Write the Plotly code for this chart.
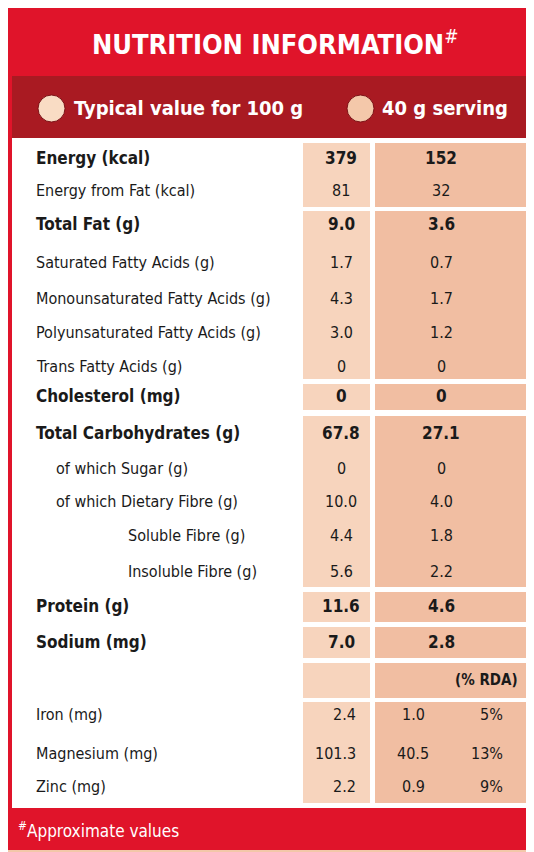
import plotly.graph_objects as go

labels = ["Energy (kcal)", "Energy from Fat (kcal)", "Total Fat (g)", "Saturated Fatty Acids (g)",
          "Monounsaturated Fatty Acids (g)", "Polyunsaturated Fatty Acids (g)", "Trans Fatty Acids (g)",
          "Cholesterol (mg)", "Total Carbohydrates (g)", "of which Sugar (g)", "of which Dietary Fibre (g)",
          "Soluble Fibre (g)", "Insoluble Fibre (g)", "Protein (g)", "Sodium (mg)",
          "", "Iron (mg)", "Magnesium (mg)", "Zinc (mg)"]
per100 = ["379", "81", "9.0", "1.7", "4.3", "3.0", "0", "0", "67.8", "0", "10.0", "4.4", "5.6",
          "11.6", "7.0", "", "2.4", "101.3", "2.2"]
per40 = ["152", "32", "3.6", "0.7", "1.7", "1.2", "0", "0", "27.1", "0", "4.0", "1.8", "2.2",
         "4.6", "2.8", "(% RDA)", "1.0", "40.5", "0.9"]
rda = ["", "", "", "", "", "", "", "", "", "", "", "", "", "", "", "", "5%", "13%", "9%"]
bold = [1, 0, 1, 0, 0, 0, 0, 1, 1, 0, 0, 0, 0, 1, 1, 1, 0, 0, 0]
indent = [0, 0, 0, 0, 0, 0, 0, 0, 0, 1, 1, 2, 2, 0, 0, 0, 0, 0, 0]
row_y = [150, 182, 216, 254, 290, 324, 358, 388, 425, 460, 493, 527, 563, 598, 634, 672, 706, 745, 778]
groups = [(135, 199), (203, 371), (376, 402), (408, 579), (584, 614), (619, 650), (655, 690), (694, 795)]

FONT = "Liberation Sans Narrow, DejaVu Sans Condensed, Arial Narrow, sans-serif"
C1, C2 = "#f7d4bd", "#f1bea2"
shapes = [
    dict(type="rect", x0=0, x1=534, y0=0, y1=852, fillcolor="#e0142a", line_width=0, layer="below"),
    dict(type="rect", x0=4, x1=530, y0=68, y1=130, fillcolor="#a91a22", line_width=0, layer="below"),
    dict(type="rect", x0=4, x1=530, y0=130, y1=800, fillcolor="white", line_width=0, layer="below"),
    dict(type="rect", x0=0, x1=534, y0=842, y1=852, fillcolor="#f3c7a9", line_width=0, layer="below"),
    dict(type="circle", x0=30, x1=57, y0=87, y1=114, fillcolor="#f9dcc4", line=dict(color="#7a1015", width=1)),
    dict(type="circle", x0=339, x1=366, y0=87, y1=114, fillcolor="#f4c8aa", line=dict(color="#7a1015", width=1)),
]
for g0, g1 in groups:
    shapes.append(dict(type="rect", x0=295, x1=362, y0=g0, y1=g1, fillcolor=C1, line_width=0, layer="below"))
    shapes.append(dict(type="rect", x0=367, x1=527, y0=g0, y1=g1, fillcolor=C2, line_width=0, layer="below"))

ann = [
    dict(x=267, y=34, text="<b>NUTRITION INFORMATION</b><sup>#</sup>", font=dict(size=27, color="white", family=FONT)),
    dict(x=64, y=100, text="<b>Typical value for 100 g</b>", xanchor="left", font=dict(size=20, color="white", family=FONT)),
    dict(x=372, y=100, text="<b>40 g serving</b>", xanchor="left", font=dict(size=20, color="white", family=FONT)),
    dict(x=8, y=822, text="<sup>#</sup>Approximate values", xanchor="left", font=dict(size=17, color="white", family=FONT)),
]
ind_x = [26, 46, 118]
for i, lab in enumerate(labels):
    y = row_y[i]
    size = 17 if bold[i] else 16
    fam = dict(size=size, color="#1a1a1a", family=FONT)
    def t(s):
        return f"<b>{s}</b>" if bold[i] else s
    if lab:
        ann.append(dict(x=ind_x[indent[i]], y=y, text=t(lab), xanchor="left", font=fam))
    if rda[i]:
        ann.append(dict(x=350, y=y, text=per100[i], xanchor="right", font=fam))
        ann.append(dict(x=405, y=y, text=per40[i], font=fam))
        ann.append(dict(x=497, y=y, text=rda[i], xanchor="right", font=fam))
    elif i == 15:
        ann.append(dict(x=512, y=y, text="<b>(% RDA)</b>", xanchor="right", font=dict(size=15, color="#1a1a1a", family=FONT)))
    else:
        ann.append(dict(x=333, y=y, text=t(per100[i]), font=fam))
        ann.append(dict(x=433, y=y, text=t(per40[i]), font=fam))
for a in ann:
    a.update(xref="x", yref="y", showarrow=False, yanchor="middle")

fig = go.Figure()
fig.update_layout(width=534, height=852, margin=dict(l=0, r=0, t=0, b=0),
                  paper_bgcolor="#e0142a", plot_bgcolor="#e0142a",
                  xaxis=dict(range=[0, 534], visible=False, fixedrange=True),
                  yaxis=dict(range=[852, 0], visible=False, fixedrange=True),
                  shapes=shapes, annotations=ann, showlegend=False)
fig.write_html("out.html")
